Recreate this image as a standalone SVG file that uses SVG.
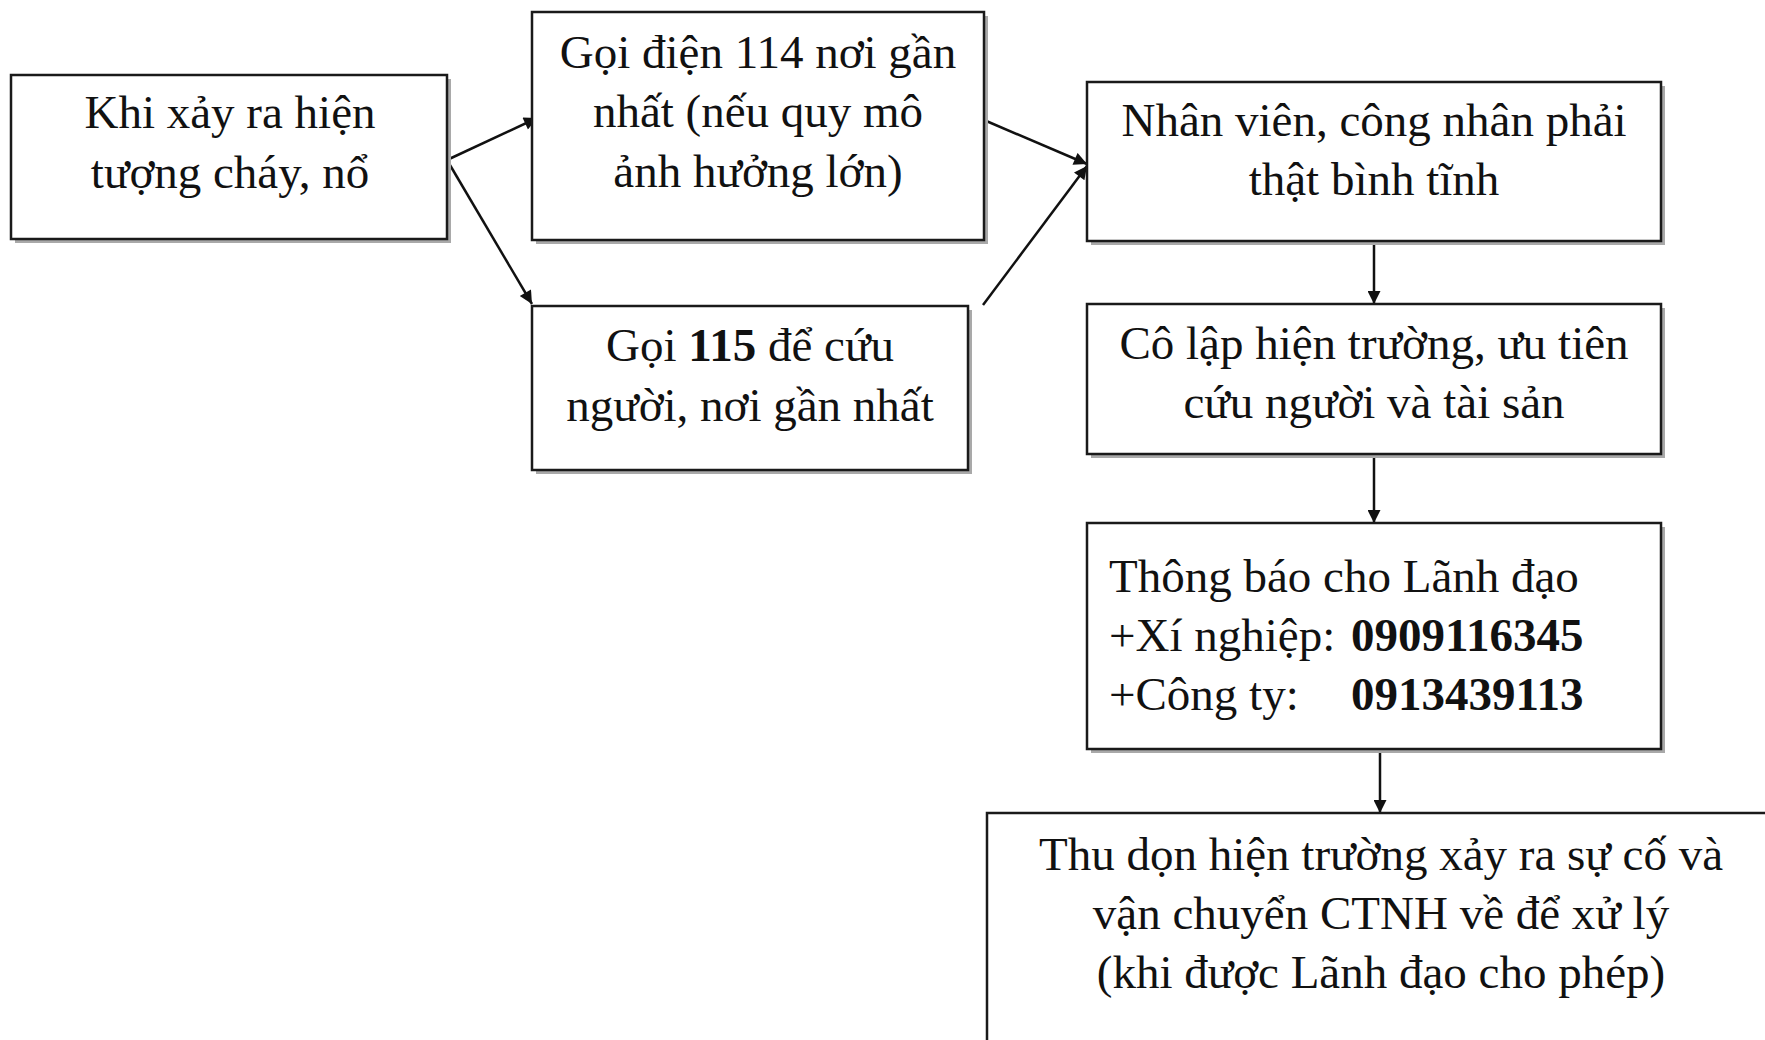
<svg xmlns="http://www.w3.org/2000/svg" width="1765" height="1040" viewBox="0 0 1765 1040">
<defs>
<style>
.box{fill:#fff;stroke:#1a1a1a;stroke-width:2.5}
.sh{fill:#a9a9a9}
.t{font-family:"Liberation Serif","Times New Roman",serif;font-size:47px;fill:#111}
.c{text-anchor:middle}
.b{font-weight:bold}
.ln{stroke:#111;stroke-width:2.5;fill:none;marker-end:url(#ah)}
</style>
<marker id="ah" viewBox="0 0 10 10" refX="10" refY="5" markerWidth="15" markerHeight="13" markerUnits="userSpaceOnUse" orient="auto">
<path d="M0,0 L10,5 L0,10 z" fill="#111"/>
</marker>
</defs>
<rect width="1765" height="1040" fill="#fff"/>
<g id="connectors">
<line class="ln" x1="447" y1="160" x2="537" y2="118"/>
<line class="ln" x1="447" y1="160" x2="532" y2="304"/>
<line class="ln" x1="984" y1="120" x2="1087" y2="164"/>
<line class="ln" x1="983" y1="305" x2="1087" y2="166"/>
<line class="ln" x1="1374" y1="241" x2="1374" y2="304"/>
<line class="ln" x1="1374" y1="454" x2="1374" y2="523"/>
<line class="ln" x1="1380" y1="749" x2="1380" y2="813"/>
</g>
<g id="n1">
<rect class="sh" x="15" y="79" width="436" height="164"/>
<rect class="box" x="11" y="75" width="436" height="164"/>
<text class="t c" x="230" y="128">Khi xảy ra hiện</text>
<text class="t c" x="230" y="188">tượng cháy, nổ</text>
</g>
<g id="n2">
<rect class="sh" x="536" y="16" width="452" height="228"/>
<rect class="box" x="532" y="12" width="452" height="228"/>
<text class="t c" x="758" y="68">Gọi điện 114 nơi gần</text>
<text class="t c" x="758" y="127">nhất (nếu quy mô</text>
<text class="t c" x="758" y="187">ảnh hưởng lớn)</text>
</g>
<g id="n3">
<rect class="sh" x="536" y="310" width="436" height="164"/>
<rect class="box" x="532" y="306" width="436" height="164"/>
<text class="t c" x="750" y="361">Gọi <tspan class="b">115</tspan> để cứu</text>
<text class="t c" x="750" y="421">người, nơi gần nhất</text>
</g>
<g id="n4">
<rect class="sh" x="1091" y="86" width="574" height="159"/>
<rect class="box" x="1087" y="82" width="574" height="159"/>
<text class="t c" x="1374" y="136">Nhân viên, công nhân phải</text>
<text class="t c" x="1374" y="195">thật bình tĩnh</text>
</g>
<g id="n5">
<rect class="sh" x="1091" y="308" width="574" height="150"/>
<rect class="box" x="1087" y="304" width="574" height="150"/>
<text class="t c" x="1374" y="359">Cô lập hiện trường, ưu tiên</text>
<text class="t c" x="1374" y="418">cứu người và tài sản</text>
</g>
<g id="n6">
<rect class="sh" x="1091" y="527" width="574" height="226"/>
<rect class="box" x="1087" y="523" width="574" height="226"/>
<text class="t" x="1109" y="592">Thông báo cho Lãnh đạo</text>
<text class="t" x="1109" y="651">+Xí nghiệp: <tspan class="b" x="1351">0909116345</tspan></text>
<text class="t" x="1109" y="710">+Công ty: <tspan class="b" x="1351">0913439113</tspan></text>
</g>
<g id="n7">
<rect class="box" x="987" y="813" width="800" height="240"/>
<text class="t c" x="1381" y="870">Thu dọn hiện trường xảy ra sự cố và</text>
<text class="t c" x="1381" y="929">vận chuyển CTNH về để xử lý</text>
<text class="t c" x="1381" y="988">(khi được Lãnh đạo cho phép)</text>
</g>
</svg>
